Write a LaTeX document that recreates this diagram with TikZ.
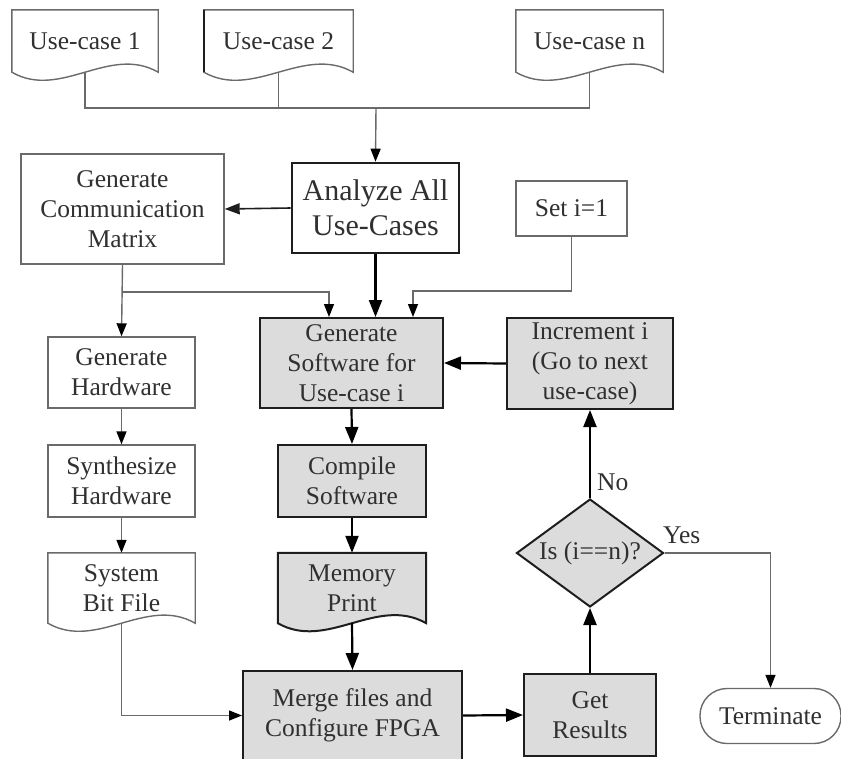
\documentclass[tikz,border=0pt]{standalone}
\usepackage{fontspec}
\setmainfont{Liberation Serif}
\newfontfamily\tnr{Liberation Serif}
\usetikzlibrary{arrows.meta,calc,shapes.geometric}
\pgfdeclarelayer{bg}
\pgfsetlayers{bg,main}
\definecolor{linegray}{HTML}{6A6A6A}
\definecolor{txtgray}{HTML}{303030}
\definecolor{boxfill}{HTML}{DCDCDC}
\definecolor{darkline}{HTML}{1E1E1E}
\newcommand\docpath[2]{%
  \begin{pgfonlayer}{bg}
  \draw[#2] (#1.south west) -- (#1.north west) -- (#1.north east) -- (#1.south east)
    .. controls ($(#1.south east)!0.333!(#1.south west)+(0,28pt)$) and ($(#1.south east)!0.667!(#1.south west)+(0,-28pt)$) .. (#1.south west) -- cycle;
  \end{pgfonlayer}}
\tikzset{
  base/.style={inner sep=0pt, align=center, text=txtgray, font=\tnr\fontsize{25.5}{30}\selectfont},
  sz/.style 2 args={minimum width=#1pt, minimum height=#2pt},
  wbox/.style={base, draw=linegray, line width=1.4pt, fill=white},
  gbox/.style={base, draw=darkline, line width=2pt, fill=boxfill},
  docnode/.style={base},
  wdoc/.style={draw=linegray, line width=1.4pt, fill=white},
  gdoc/.style={draw=darkline, line width=2pt, fill=boxfill},
  thinline/.style={draw=linegray, line width=1.4pt},
  thinarrow/.style={thinline, -{Triangle[length=13pt,width=10pt,color=black]}},
  thickarrow/.style={draw=black, line width=2.2pt, -{Triangle[length=17pt,width=13pt]}},
  medarrow/.style={draw=darkline, line width=1.6pt, -{Triangle[length=15pt,width=11pt]}},
  lbl/.style={inner sep=0pt, text=txtgray, font=\tnr\fontsize{25.5}{30}\selectfont}
}
\begin{document}
\begin{tikzpicture}[x=1pt,y=-1pt]
\useasboundingbox (0,0) rectangle (841,758);

% use-case documents
\node[docnode, sz={146}{62}] (uc1) at (85,41) {Use-case 1};
\node[docnode, sz={149}{62}] (uc2) at (278.5,41) {Use-case 2};
\node[docnode, sz={147}{62}] (ucn) at (589.5,41) {Use-case n};
\docpath{uc1}{wdoc}
\docpath{uc2}{wdoc}
\docpath{ucn}{wdoc}
\draw[line width=2.6pt, draw=darkline] (uc2.north west) -- (uc2.south west);

% main boxes
\node[base, draw=darkline, line width=2.6pt, fill=white, sz={167}{90},
      font=\tnr\fontsize{30}{35}\selectfont] (analyze) at (375.5,208) {Analyze All\\Use-Cases};
\node[wbox, sz={203}{110}] (comm) at (122.5,209) {Generate\\Communication\\Matrix};
\node[wbox, sz={111}{55}] (seti) at (571.5,208.5) {Set i=1};

\node[gbox, sz={183}{90}] (gensw) at (351.5,363) {Generate\\Software for\\Use-case i};
\node[gbox, sz={166}{91}] (incr) at (590,363.5) {Increment i\\(Go to next\\use-case)};

\node[wbox, sz={147}{71}] (genhw) at (121.5,372.5) {Generate\\Hardware};
\node[wbox, sz={147}{72}] (synhw) at (121.5,481) {Synthesize\\Hardware};
\node[gbox, sz={148}{72}] (compile) at (352,481) {Compile\\Software};

\node[docnode, sz={147}{70}] (sysbit) at (121.5,588) {System\\Bit File};
\node[docnode, sz={148}{70}] (mem) at (352,588) {Memory\\Print};
\docpath{sysbit}{wdoc}
\docpath{mem}{gdoc}

\node[gbox, sz={219}{89}] (merge) at (352.5,715.5) {Merge files and\\Configure FPGA};
\node[gbox, sz={132}{82}] (getres) at (590,715) {Get\\Results};

\node[diamond, draw=darkline, line width=2pt, fill=boxfill, inner sep=0pt,
      sz={147}{108}] (dec) at (590,553) {};
\node[base] (dectext) at (dec.center) {Is (i==n)?};

\node[base, draw=linegray, line width=1.4pt, fill=white, sz={141}{55},
      rounded corners=27pt] (term) at (770.5,716) {Terminate};

% connectors: use-cases to analyze
\coordinate (bus) at (376,108);
\draw[thinline] (uc1.south) |- (bus) -| (ucn.south);
\draw[thinline] (uc2.south) -- (uc2.south |- bus);
\draw[thinarrow] (bus) -- (analyze.north);

\draw[medarrow] (analyze.west) -- (comm.east);

% comm matrix branches
\coordinate (br) at (122,292);
\draw[thinarrow] (comm.south) -- (genhw.north);
\draw[thinarrow] (br) -| ($(gensw.north)+(-22.5pt,0)$);
\draw[thinarrow] (seti.south) |- ($(gensw.north)+(61.5pt,26pt)$) -- ($(gensw.north)+(61.5pt,0)$);
\draw[thickarrow] (analyze.south) -- (analyze.south |- gensw.north);

% software column
\draw[thickarrow] (gensw.south) -- (compile.north);
\draw[thickarrow] (compile.south) -- (mem.north);
\draw[thickarrow] (mem.south) -- (merge.north);
\draw[thickarrow] (incr.west) -- (gensw.east);

% hardware column
\draw[thinarrow] (genhw.south) -- (synhw.north);
\draw[thinarrow] (synhw.south) -- (sysbit.north);
\draw[thinarrow] (sysbit.south) |- (merge.west);

% results and decision
\draw[thickarrow] (merge.east) -- (getres.west);
\draw[thickarrow] (getres.north) -- (dec.south);
\draw[thickarrow] (dec.north) -- (incr.south);
\draw[thinarrow] (dec.east) -| (term.north);

\node[lbl, anchor=west] (nolbl) at (597,482) {No};
\node[lbl, anchor=west] (yeslbl) at (663,535) {Yes};
\end{tikzpicture}
\end{document}
